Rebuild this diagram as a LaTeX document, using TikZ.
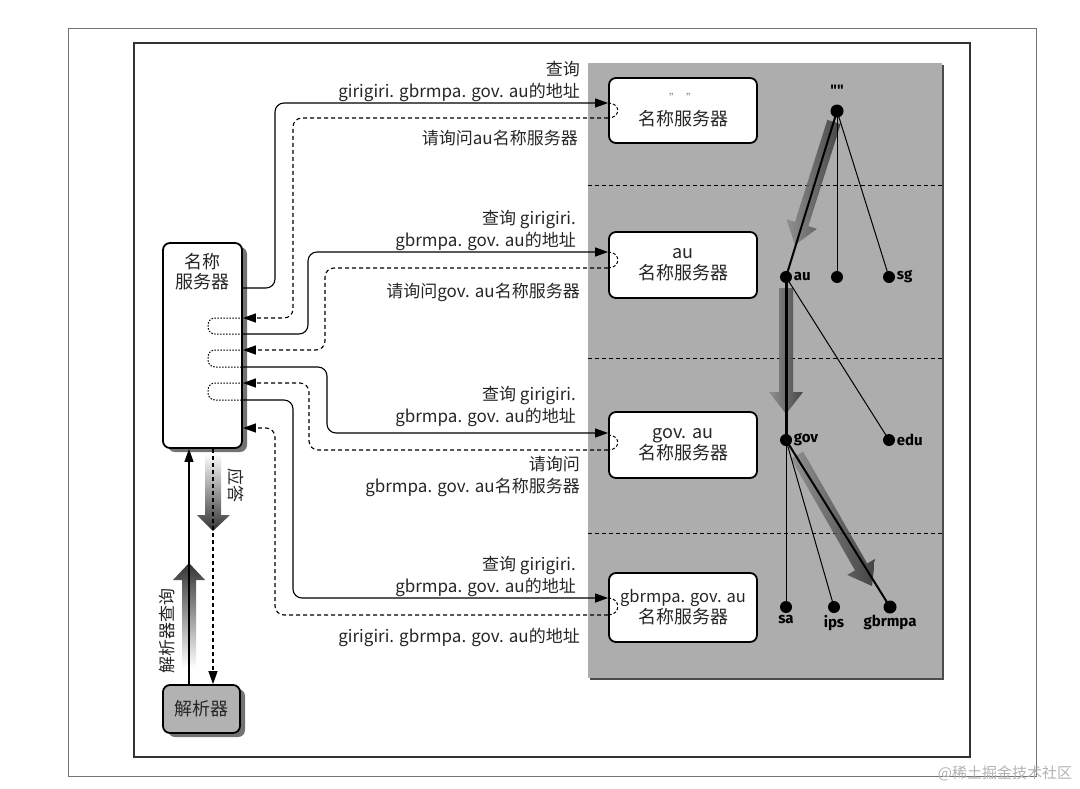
\documentclass[tikz,border=0pt]{standalone}
\usepackage{fontspec}
\setmainfont{Noto Sans CJK SC}
\newfontfamily\treefont{Fira Sans}
\usetikzlibrary{arrows.meta,shadows}
\begin{document}
\begin{tikzpicture}[x=1pt,y=-1pt,
  srv/.style={draw=black, line width=1.8pt, rounded corners=7pt, fill=white, minimum width=148pt, inner sep=0pt, align=center, font=\fontsize{18}{21}\selectfont, text=black!85},
  lbl/.style={anchor=east, align=right, inner sep=0pt, font=\fontsize{17}{22}\selectfont, text=black!85},
  qry/.style={line width=1.1pt, rounded corners=9pt, -{Triangle[length=13pt,width=9pt]}},
  rsp/.style={line width=1.1pt, dash pattern=on 4pt off 3pt, rounded corners=9pt, -{Triangle[length=13pt,width=9pt]}},
  loopd/.style={line width=1pt, dash pattern=on 1.5pt off 1.5pt, rounded corners=7pt},
  loops/.style={line width=1pt, dash pattern=on 3pt off 2pt},
  dot/.style={circle, fill=black, inner sep=0pt, minimum size=12pt},
  tl/.style={font=\treefont\bfseries\fontsize{15}{15}\selectfont, inner sep=1.5pt, text=black},
  fatshade/.style={left color=black!45, right color=black!80, opacity=0.85},
  shd/.style={drop shadow={shadow xshift=5pt, shadow yshift=-4pt, opacity=0.55, fill=black}},
]
\useasboundingbox (0,0) rectangle (1080,788);
% frames
\draw[black!55, line width=0.8pt] (68,28) rectangle (1036,776);
\draw[black!80, line width=1.1pt] (134,43) rectangle (970,757);
% gray panel
\fill[black!70] (590,65) rectangle (944,680);
\fill[black!32] (588,63) rectangle (942,678);
\foreach \yy in {185,358,533}
  \draw[line width=1pt, dash pattern=on 4pt off 3pt] (588,\yy) -- (942,\yy);

% server boxes
\node[srv, minimum height=65pt] (s0) at (683,110.5) {{\color{black!45}\fontsize{11}{12}\selectfont "\hspace{6pt}"}\\[2pt]名称服务器};
\node[srv, minimum height=66pt] (s1) at (683,265) {au\\名称服务器};
\node[srv, minimum height=66pt] (s2) at (683,445) {gov. au\\名称服务器};
\node[srv, minimum height=69pt] (s3) at (683,607.5) {{\fontsize{16.5}{20}\selectfont gbrmpa. gov. au}\\名称服务器};

% tree arrows (fat shaded arrows, drawn as shapes)
\begin{scope}[shift={(834,122)}, rotate=-107.6]
  \shade[fatshade] (0,-7) -- (107,-7) -- (107,-16) -- (129,0) -- (107,16) -- (107,7) -- (0,7) -- cycle;
\end{scope}
\begin{scope}[shift={(786,288)}, rotate=-90]
  \shade[fatshade] (0,-7) -- (104,-7) -- (104,-17) -- (126,0) -- (104,17) -- (104,7) -- (0,7) -- cycle;
\end{scope}
\begin{scope}[shift={(797,455)}, rotate=-60.2]
  \shade[fatshade] (0,-7) -- (129,-7) -- (129,-16) -- (151,0) -- (129,16) -- (129,7) -- (0,7) -- cycle;
\end{scope}
% tree
\node[dot, minimum size=13pt] (root) at (837,111) {};
\node[dot] (au) at (786,277) {};
\node[dot] (mid) at (837,277) {};
\node[dot] (sg) at (889,277) {};
\node[dot] (gov) at (786,440) {};
\node[dot] (edu) at (889,440) {};
\node[dot] (sa) at (786,607) {};
\node[dot] (ips) at (834,607) {};
\node[dot, minimum size=13pt] (gbrmpa) at (890,607) {};
\draw[line width=2pt] (root.center) -- (au.center);
\draw[line width=1pt] (root.center) -- (mid.center);
\draw[line width=1pt] (root.center) -- (sg.center);
\draw[line width=3pt] (au.center) -- (gov.center);
\draw[line width=1pt] (au.center) -- (edu.center);
\draw[line width=1pt] (gov.center) -- (sa.center);
\draw[line width=1pt] (gov.center) -- (ips.center);
\draw[line width=2pt] (gov.center) -- (gbrmpa.center);
\node[tl] at (837,90) {""};
\node[tl, anchor=west] at (au.east) {au};
\node[tl, anchor=west] at (sg.east) {sg};
\node[tl, anchor=west] at (gov.east) {gov};
\node[tl, anchor=west] at (edu.east) {edu};
\node[tl, anchor=north] at (sa.south) {sa};
\node[tl, anchor=north] at (ips.south) {ips};
\node[tl, anchor=north] at (gbrmpa.south) {gbrmpa};

% name server and resolver
\node[draw=black, line width=1.8pt, rounded corners=7pt, fill=white, minimum width=79pt, minimum height=205pt, shd] (ns) at (202.5,345.5) {};
\node[align=center, inner sep=0pt, font=\fontsize{18}{20}\selectfont, text=black!85] (nslbl) at (202.5,272) {名称\\服务器};
\node[draw=black, line width=1.8pt, rounded corners=7pt, fill=black!30, minimum width=77pt, minimum height=48pt, font=\fontsize{18}{20}\selectfont, text=black!85, shd] (res) at (201.5,709) {解析器};

% big shaded arrows near resolver
\shade[top color=black!80, bottom color=white] (189,563) -- (205,580) -- (196,580) -- (196,668) -- (182,668) -- (182,580) -- (173,580) -- cycle;
\shade[top color=white, bottom color=black!80] (213,531) -- (230,515) -- (221,515) -- (221,453) -- (205,453) -- (205,515) -- (197,515) -- cycle;
\draw[line width=1.1pt, -{Triangle[length=13pt,width=9pt]}] (res.north -| 189,0) -- (ns.south -| 189,0);
\draw[line width=1.1pt, dash pattern=on 4pt off 3pt, -{Triangle[length=13pt,width=9pt]}] (ns.south -| 213,0) -- (res.north -| 213,0);
\node[rotate=90, inner sep=0pt, font=\fontsize{17}{17}\selectfont, text=black!85] (rq) at (167,631) {解析器查询};
\node[rotate=-90, inner sep=0pt, font=\fontsize{17}{17}\selectfont, text=black!85] (ans) at (236,485) {应答};

% loops on name server
\draw[loopd] (ns.east |- 0,318) -- (208,318) -- (208,334) -- (ns.east |- 0,334);
\draw[loopd] (ns.east |- 0,350) -- (208,350) -- (208,367) -- (ns.east |- 0,367);
\draw[loopd] (ns.east |- 0,383) -- (208,383) -- (208,400) -- (ns.east |- 0,400);
% loops at server boxes
\draw[loops] (s0.west |- 0,103) .. controls (621,103) and (621,118) .. (s0.west |- 0,118);
\draw[loops] (s1.west |- 0,252) .. controls (621,252) and (621,268) .. (s1.west |- 0,268);
\draw[loops] (s2.west |- 0,435) .. controls (621,435) and (621,450) .. (s2.west |- 0,450);
\draw[loops] (s3.west |- 0,598) .. controls (621,598) and (621,615) .. (s3.west |- 0,615);

% queries and responses
\draw[qry] (ns.east |- 0,288) -- (275,288) -- (275,103) -- (s0.west |- 0,103);
\draw[rsp] (s0.west |- 0,118) -- (293,118) -- (293,318) -- (ns.east |- 0,318);
\draw[qry] (ns.east |- 0,334) -- (308,334) -- (308,252) -- (s1.west |- 0,252);
\draw[rsp] (s1.west |- 0,268) -- (325,268) -- (325,350) -- (ns.east |- 0,350);
\draw[qry] (ns.east |- 0,367) -- (327,367) -- (327,433) -- (s2.west |- 0,433);
\draw[rsp] (s2.west |- 0,450) -- (309,450) -- (309,383) -- (ns.east |- 0,383);
\draw[qry] (ns.east |- 0,400) -- (293,400) -- (293,598) -- (s3.west |- 0,598);
\draw[rsp] (s3.west |- 0,615) -- (275,615) -- (275,428) -- (ns.east |- 0,428);

% labels
\node[lbl] (l1) at (580,81) {查询\\girigiri. gbrmpa. gov. au的地址};
\node[lbl] (l2) at (578,138) {请询问au名称服务器};
\node[lbl] (l3) at (576,230) {查询 girigiri.\\gbrmpa. gov. au的地址};
\node[lbl] (l4) at (580,292) {请询问gov. au名称服务器};
\node[lbl] (l5) at (576,406) {查询 girigiri.\\gbrmpa. gov. au的地址};
\node[lbl] (l6) at (580,476) {请询问\\gbrmpa. gov. au名称服务器};
\node[lbl] (l7) at (576,576) {查询 girigiri.\\gbrmpa. gov. au的地址};
\node[lbl] (l8) at (580,637) {girigiri. gbrmpa. gov. au的地址};

% watermark
\node[inner sep=0pt, font=\fontsize{15}{15}\selectfont, text=black!30] (wm) at (1005,773) {@稀土掘金技术社区};
\end{tikzpicture}
\end{document}
